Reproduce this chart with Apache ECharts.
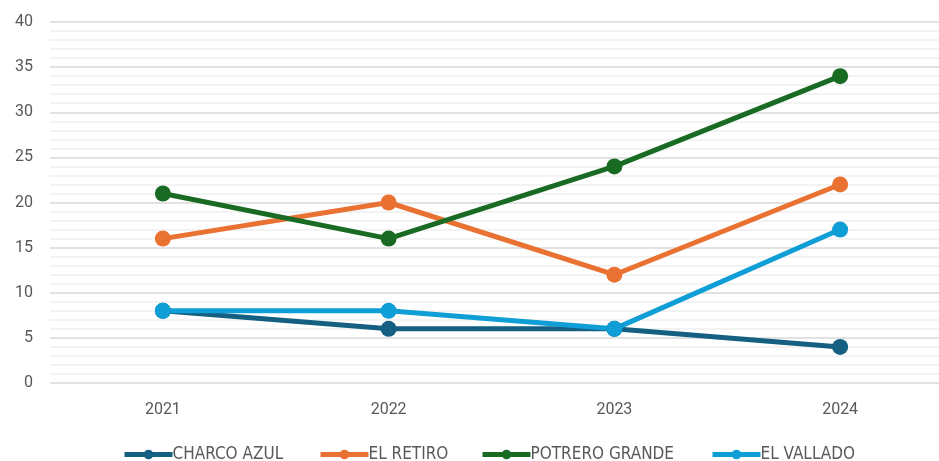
<!DOCTYPE html>
<html>
<head>
<meta charset="utf-8">
<script src="https://cdn.jsdelivr.net/npm/echarts@6/dist/echarts.min.js"></script>
<style>
  html, body { margin: 0; padding: 0; background: #fff; }
  #main { width: 939px; height: 461px; }
</style>
</head>
<body>
<div id="main"></div>
<script type="text/javascript">
var years = ['2021', '2022', '2023', '2024'];
var charcoAzul = [8, 6, 6, 4];
var elRetiro = [16, 20, 12, 22];
var potreroGrande = [21, 16, 24, 34];
var elVallado = [8, 8, 6, 17];

var names = ['CHARCO AZUL', 'EL RETIRO', 'POTRERO GRANDE', 'EL VALLADO'];
var legendLeft = [122, 318, 480, 710];

var myChart = echarts.init(document.getElementById('main'));

function serie(name, data, color) {
    return {
        name: name,
        type: 'line',
        data: data,
        symbol: 'circle',
        symbolSize: 16,
        lineStyle: { width: 5, color: color },
        itemStyle: { color: color },
        emphasis: { disabled: true }
    };
}

// one legend per item so the spacing matches
var legends = names.map(function (n, i) {
    return {
        left: legendLeft[i],
        top: 446,
        itemWidth: 48,
        itemHeight: 12,
        itemGap: 0,
        padding: 0,
        lineStyle: { width: 5 },
        textStyle: { color: '#595959', fontSize: 17, padding: [0, 0, 0, -5],
                     fontFamily: 'DejaVu Sans Condensed, Liberation Sans Narrow, sans-serif' },
        data: [n]
    };
});

var option = {
    animation: false,
    grid: { left: 50, top: 22, width: 903, height: 361, outerBoundsMode: 'none' },
    legend: legends,
    xAxis: {
        type: 'category',
        data: years,
        boundaryGap: true,
        axisLine: { show: false },
        axisTick: { show: false },
        axisLabel: { color: '#595959', fontSize: 16, margin: 19, fontFamily: 'Roboto, sans-serif' }
    },
    yAxis: {
        type: 'value',
        min: 0,
        max: 40,
        interval: 5,
        axisLabel: { color: '#595959', fontSize: 16, margin: 17, fontFamily: 'Roboto, sans-serif' },
        splitLine: { lineStyle: { color: '#d9d9d9', width: 1.5 } },
        minorTick: { show: false, splitNumber: 5 },
        minorSplitLine: { show: true, lineStyle: { color: '#efefef', width: 1.5 } }
    },
    series: [
        serie('CHARCO AZUL', charcoAzul, '#156082'),
        serie('EL RETIRO', elRetiro, '#e97132'),
        serie('POTRERO GRANDE', potreroGrande, '#196b24'),
        serie('EL VALLADO', elVallado, '#0f9ed5')
    ]
};

myChart.setOption(option);
</script>
</body>
</html>
